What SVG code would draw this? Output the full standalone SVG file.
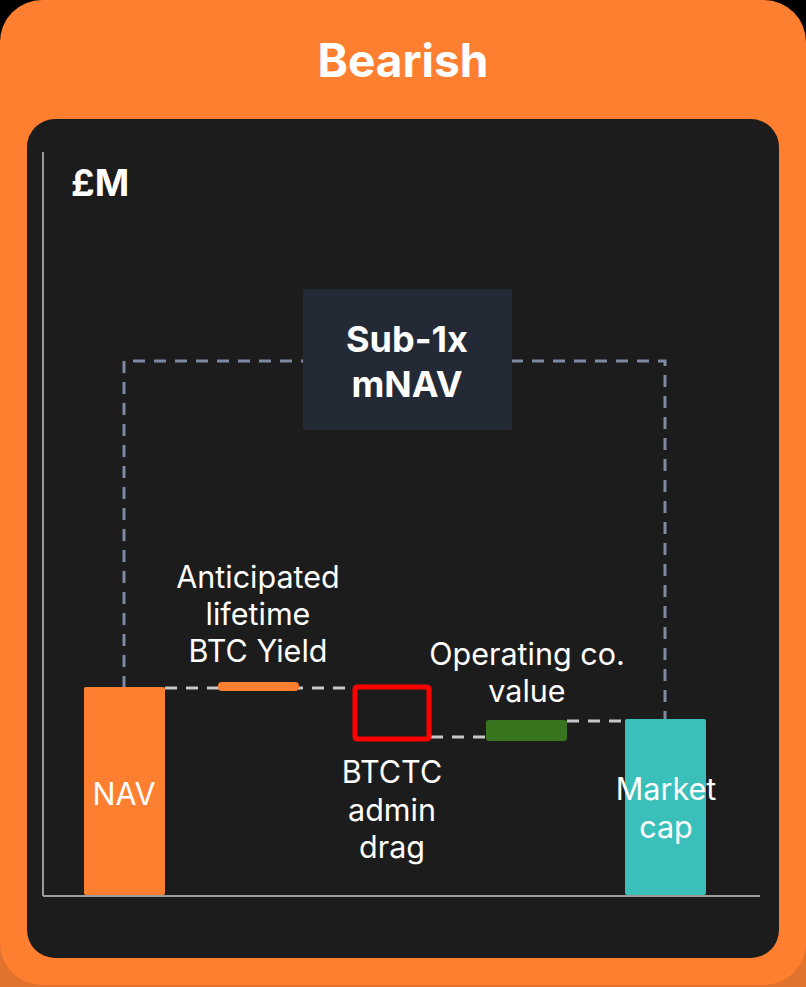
<svg xmlns="http://www.w3.org/2000/svg" width="806" height="987" viewBox="0 0 806 987">
<defs>
<style>
.lbl{font-family:Inter,"Liberation Sans",sans-serif;font-size:30.5px;fill:#ffffff;text-anchor:middle}
.bold{font-family:Inter,"Liberation Sans",sans-serif;font-weight:700;fill:#ffffff;text-anchor:middle}
.guide{fill:none;stroke:#7d8aa3;stroke-width:3;stroke-dasharray:12 9}
.link{fill:none;stroke:#c8c8c8;stroke-width:3;stroke-dasharray:12 9}
.axis{stroke:#9a9a9a;stroke-width:2}
</style>
</defs>
<rect x="0" y="0" width="806" height="500" fill="#000000"/>
<rect x="0" y="500" width="806" height="487" fill="#e0732e"/>
<rect x="0" y="0" width="806" height="985" rx="42" fill="#ff7f30"/>
<text class="bold" x="403" y="77" font-size="46">Bearish</text>
<rect x="27" y="119" width="752" height="839" rx="28" fill="#1c1c1c"/>
<g id="axes">
<line class="axis" x1="43" y1="152" x2="43" y2="896"/>
<line class="axis" x1="43" y1="896" x2="760" y2="896"/>
<text x="71" y="196" font-family="Inter,'Liberation Sans',sans-serif" font-weight="700" font-size="37" fill="#ffffff">£M</text>
</g>
<g id="connectors">
<polyline class="guide" points="124,688 124,361 665,361 665,720"/>
<line class="link" x1="165" y1="688" x2="352" y2="688"/>
<line class="link" x1="431" y1="737" x2="487" y2="737"/>
<line class="link" x1="567" y1="721" x2="625" y2="721"/>
</g>
<g id="mnav">
<rect x="303" y="289" width="209" height="141" rx="2" fill="#232a36"/>
<text class="bold" x="407" y="352" font-size="36">Sub-1x</text>
<text class="bold" x="407" y="397" font-size="36">mNAV</text>
</g>
<g id="nav">
<rect x="84" y="687" width="81" height="208" rx="2" fill="#ff7f30"/>
<text class="lbl" x="124" y="805">NAV</text>
</g>
<g id="btc-yield">
<rect x="218" y="682" width="81" height="9" rx="4" fill="#ff7f30"/>
<text class="lbl" x="258" y="588">Anticipated</text>
<text class="lbl" x="258" y="625">lifetime</text>
<text class="lbl" x="258" y="662">BTC Yield</text>
</g>
<g id="admin-drag">
<rect x="355" y="687" width="74" height="52" rx="2" fill="none" stroke="#ff0000" stroke-width="5"/>
<text class="lbl" x="392" y="783">BTCTC</text>
<text class="lbl" x="392" y="821">admin</text>
<text class="lbl" x="392" y="858">drag</text>
</g>
<g id="opco">
<rect x="486" y="720" width="81" height="21" rx="3" fill="#37761f"/>
<text class="lbl" x="527" y="665">Operating co.</text>
<text class="lbl" x="527" y="702">value</text>
</g>
<g id="market-cap">
<rect x="625" y="719" width="81" height="176" rx="2" fill="#3bbfbb"/>
<text class="lbl" x="666" y="800">Market</text>
<text class="lbl" x="666" y="838">cap</text>
</g>
</svg>
